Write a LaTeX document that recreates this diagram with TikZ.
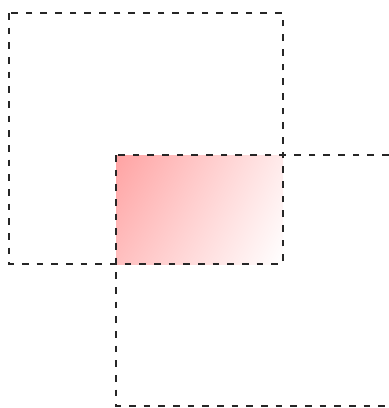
\documentclass[tikz,border=0pt]{standalone}
\usepackage{tikz}
\usetikzlibrary{shadings}
\begin{document}
\begin{tikzpicture}[x=0.75pt,y=-0.75pt,frame/.style={draw=black!85,dash pattern=on 5pt off 6pt,line width=1.3pt}]
\useasboundingbox (0,0) rectangle (389,408);
\coordinate (a1) at (9,13);
\coordinate (a2) at (283,264);
\coordinate (b1) at (116,155);
\coordinate (b2) at (390,406);
% overlap of the two frames
\shade[upper left=red!36,upper right=red!8,lower left=red!25,lower right=white] (b1) rectangle (a2);
\draw[frame] (a1) rectangle (a2);
\draw[frame] (b1) rectangle (b2);
\end{tikzpicture}
\end{document}
